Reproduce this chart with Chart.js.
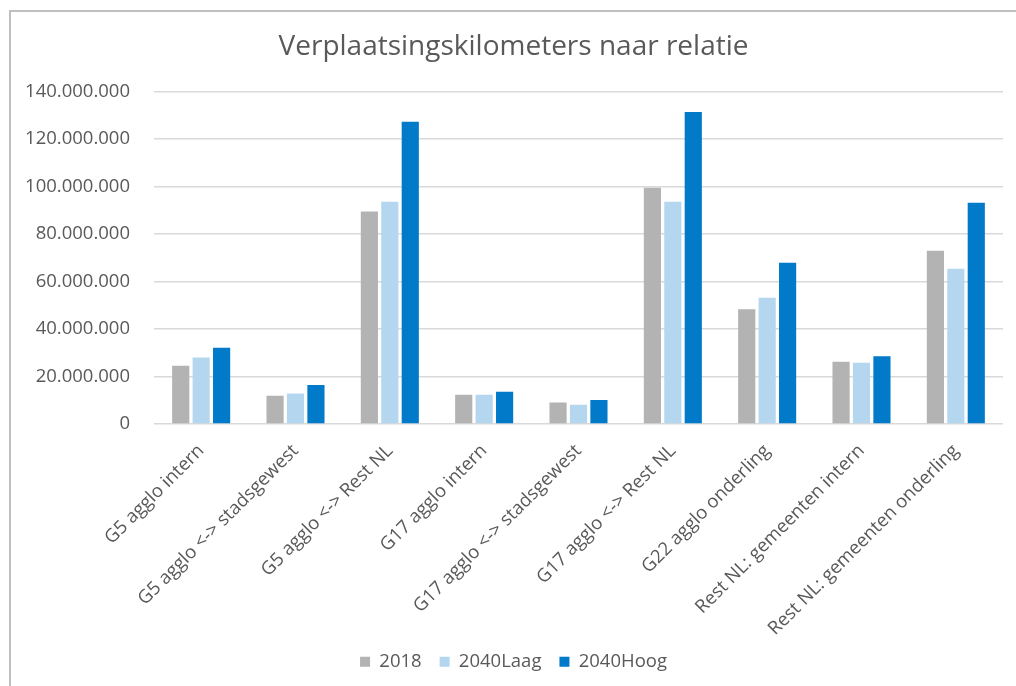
<!DOCTYPE html>
<html>
<head>
<meta charset="utf-8">
<script src="https://cdn.jsdelivr.net/npm/chart.js@4.4.1/dist/chart.umd.min.js"></script>
<style>
  html, body { margin: 0; padding: 0; background: #ffffff; overflow: hidden; }
  #frame { position: absolute; left: 9px; top: 10px; width: 1005px; height: 674px;
           border-left: 2px solid #bfbfbf; border-top: 2px solid #bfbfbf; }
  #wrap { position: relative; width: 1005px; height: 674px; }
</style>
</head>
<body>
<div id="frame"><div id="wrap"><canvas id="c"></canvas></div></div>
<script>
const categories = [
  "G5 agglo intern",
  "G5 agglo <-> stadsgewest",
  "G5 agglo <-> Rest NL",
  "G17 agglo intern",
  "G17 agglo <-> stadsgewest",
  "G17 agglo <-> Rest NL",
  "G22 agglo onderling",
  "Rest NL: gemeenten intern",
  "Rest NL: gemeenten onderling"
];
const series2018     = [24500000, 11900000, 89500000, 12300000, 9100000, 99500000, 48300000, 26200000, 73000000];
const series2040Laag = [28000000, 12800000, 93600000, 12300000, 8100000, 93600000, 53200000, 25800000, 65400000];
const series2040Hoog = [32100000, 16400000, 127300000, 13600000, 10100000, 131400000, 67900000, 28500000, 93200000];
const seriesNames = ["2018", "2040Laag", "2040Hoog"];
const yTicks = [0, 20000000, 40000000, 60000000, 80000000, 100000000, 120000000, 140000000];

const textColor = "#595959";
const fontFamily = "'Open Sans', 'Liberation Sans', sans-serif";

function fmt(v) {
  return String(Math.round(v)).replace(/\B(?=(\d{3})+(?!\d))/g, ".");
}

new Chart(document.getElementById("c"), {
  type: "bar",
  data: {
    labels: categories,
    datasets: [
      { label: seriesNames[0], data: series2018, backgroundColor: "#b3b3b3" },
      { label: seriesNames[1], data: series2040Laag, backgroundColor: "#b4d7ef" },
      { label: seriesNames[2], data: series2040Hoog, backgroundColor: "#007ac9" }
    ]
  },
  options: {
    responsive: true,
    maintainAspectRatio: false,
    animation: false,
    devicePixelRatio: 1,
    layout: { padding: { left: 13, right: 13, top: 0, bottom: 5 } },
    datasets: { bar: { categoryPercentage: 0.65, barPercentage: 0.84 } },
    plugins: {
      title: {
        display: true,
        text: "Verplaatsingskilometers naar relatie",
        color: textColor,
        font: { family: fontFamily, size: 28, weight: "normal", lineHeight: 1.2 },
        padding: { top: 18, bottom: 28 }
      },
      legend: {
        position: "bottom",
        labels: {
          color: textColor,
          font: { family: fontFamily, size: 18.5 },
          boxWidth: 10,
          boxHeight: 10,
          padding: 18
        }
      },
      tooltip: { enabled: false }
    },
    scales: {
      x: {
        grid: { display: false },
        border: { display: false },
        ticks: {
          color: textColor,
          font: { family: fontFamily, size: 18.5 },
          maxRotation: 45,
          minRotation: 45,
          padding: 8,
          autoSkip: false
        },
        afterFit: (s) => { s.height = 210.5; }
      },
      y: {
        min: 0,
        max: 140000000,
        afterBuildTicks: (s) => { s.ticks = yTicks.map(v => ({ value: v })); },
        grid: { color: "#d9d9d9", lineWidth: 1.5, drawTicks: false },
        border: { display: false },
        ticks: {
          color: textColor,
          font: { family: fontFamily, size: 18.5 },
          padding: 24,
          callback: (v) => fmt(v)
        },
        afterFit: (s) => { s.width = 130; }
      }
    }
  }
});
</script>
</body>
</html>
